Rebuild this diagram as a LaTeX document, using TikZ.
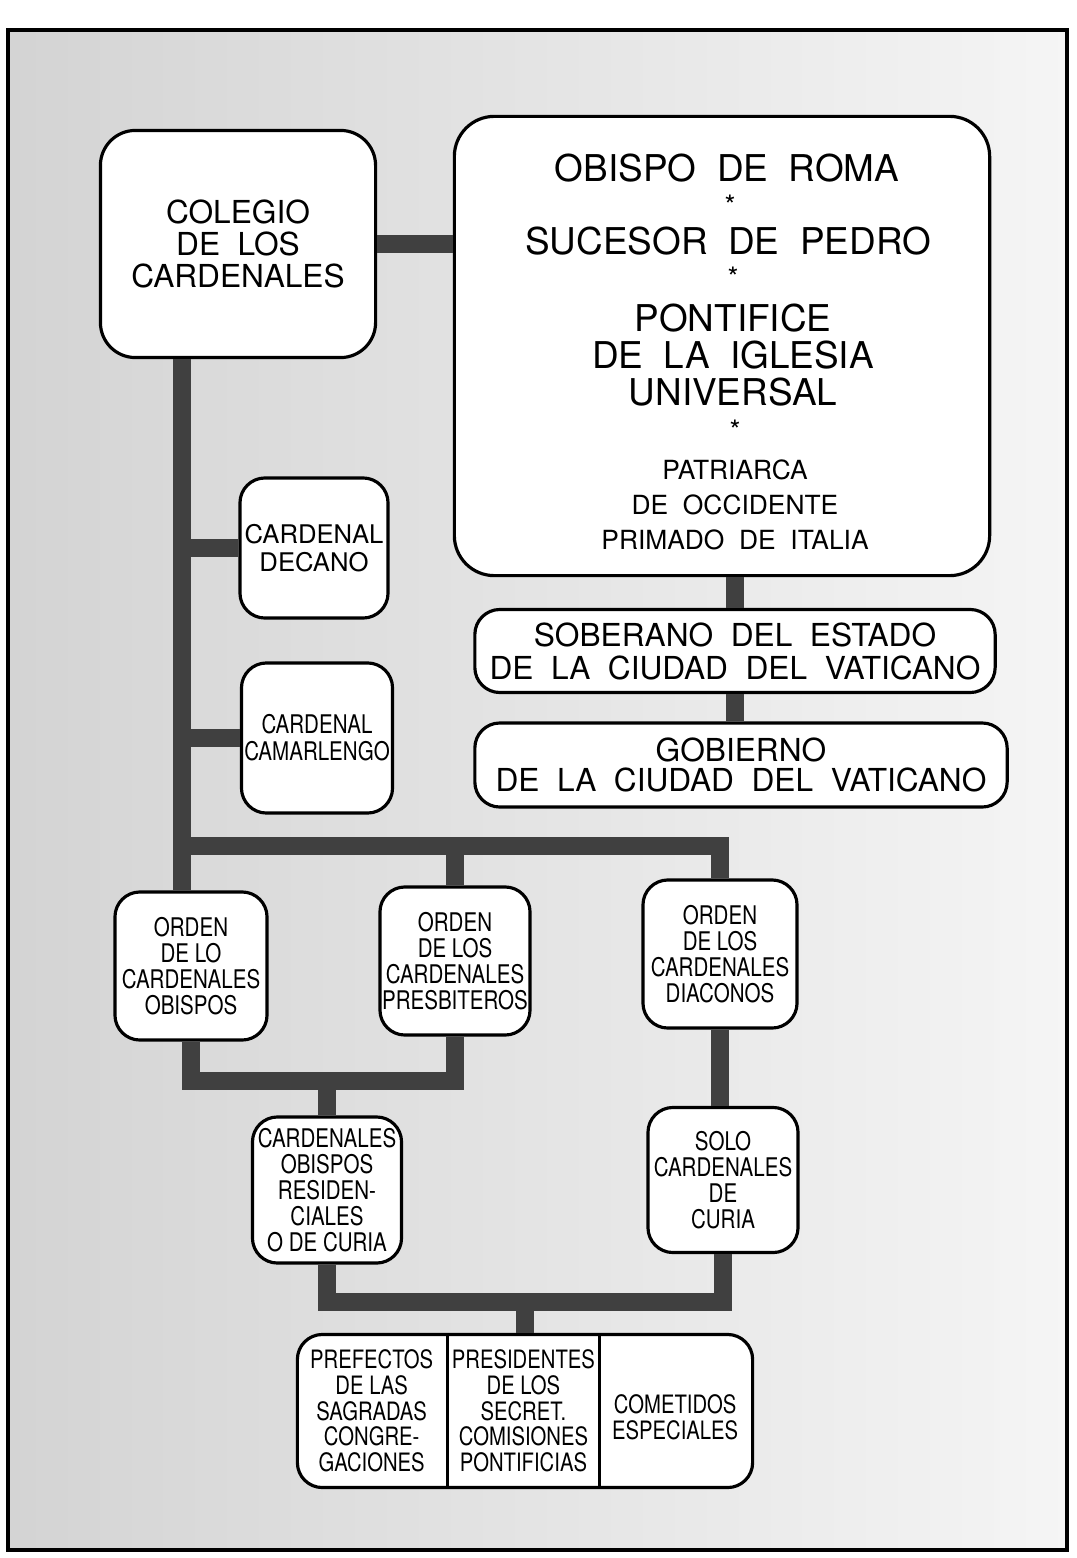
\documentclass[tikz,border=0pt]{standalone}
\usepackage{fontspec}
\setmainfont{TeX Gyre Heros}
\newfontfamily\widefont[WordSpace=2]{TeX Gyre Heros}
\newfontfamily\narrowfont[FakeStretch=0.8]{TeX Gyre Heros}
\usetikzlibrary{positioning}
\tikzset{
  bigbox/.style={draw, line width=0.9pt, fill=white, rounded corners=0.35cm, align=center, inner sep=0pt},
  smallbox/.style={draw, line width=0.9pt, fill=white, rounded corners=0.25cm, align=center, inner sep=0pt},
  ordenbox/.style={smallbox, font=\narrowfont\fontsize{7.3}{7.4}\selectfont},
  txt/.style={align=center, inner sep=0pt},
  cell/.style={inner sep=0pt, outer sep=0pt, minimum width=1.5167cm, minimum height=1.53cm, align=center, font=\narrowfont\fontsize{7.2}{7.3}\selectfont},
  bar/.style={line width=5pt, draw=black!75}
}

\begin{document}
\begin{tikzpicture}[x=0.01cm, y=-0.01cm]
\useasboundingbox (0,0) rectangle (1077,1558);

% Background
\shade[left color=black!17, right color=black!4] (8,30) rectangle (1067,1550);
\draw[line width=1.4pt] (8,30) rectangle (1067,1550);

% Nodes
\node[bigbox, minimum width=2.75cm, minimum height=2.27cm, font=\widefont\fontsize{9}{9}\selectfont] (colegio) at (238,244) {COLEGIO\\DE LOS\\CARDENALES};
\node[bigbox, rounded corners=0.4cm, minimum width=5.35cm, minimum height=4.59cm] (obispo) at (722,346) {};
\node[txt, font=\widefont\fontsize{10.5}{10.5}\selectfont] (roma) at (727,168) {OBISPO DE ROMA};
\node[txt, font=\fontsize{8}{8}\selectfont] (star1) at (730,205) {*};
\node[txt, font=\widefont\fontsize{10.5}{10.5}\selectfont] (pedro) at (728,241) {SUCESOR DE PEDRO};
\node[txt, font=\fontsize{8}{8}\selectfont] (star2) at (733,277) {*};
\node[txt, font=\widefont\fontsize{10.5}{10.5}\selectfont] (pontif) at (733,355) {PONTIFICE\\DE LA IGLESIA\\UNIVERSAL};
\node[txt, font=\fontsize{8}{8}\selectfont] (star3) at (735,430) {*};
\node[txt, font=\widefont\fontsize{7.5}{10}\selectfont] (patri) at (735,505) {PATRIARCA\\DE OCCIDENTE\\PRIMADO DE ITALIA};

\node[smallbox, minimum width=1.48cm, minimum height=1.40cm, font=\fontsize{7.3}{8}\selectfont] (decano) at (314,548) {CARDENAL\\DECANO};
\node[smallbox, minimum width=1.51cm, minimum height=1.50cm, font=\narrowfont\fontsize{7.3}{7.7}\selectfont] (camarl) at (317,738) {CARDENAL\\CAMARLENGO};

\node[smallbox, minimum width=5.20cm, minimum height=0.83cm, font=\widefont\fontsize{9}{9.4}\selectfont] (soberano) at (735,651) {SOBERANO DEL ESTADO\\DE LA CIUDAD DEL VATICANO};
\node[smallbox, minimum width=5.32cm, minimum height=0.84cm, font=\widefont\fontsize{9}{8.6}\selectfont] (gobierno) at (741,765) {GOBIERNO\\DE LA CIUDAD DEL VATICANO};

\node[ordenbox, minimum width=1.52cm, minimum height=1.48cm] (ordob) at (191,966) {ORDEN\\DE LO\\CARDENALES\\OBISPOS};
\node[ordenbox, minimum width=1.50cm, minimum height=1.48cm] (ordpr) at (455,961) {ORDEN\\DE LOS\\CARDENALES\\PRESBITEROS};
\node[ordenbox, minimum width=1.54cm, minimum height=1.48cm] (diac) at (720,954) {ORDEN\\DE LOS\\CARDENALES\\DIACONOS};
\node[ordenbox, minimum width=1.49cm, minimum height=1.46cm] (res) at (327,1190) {CARDENALES\\OBISPOS\\RESIDEN-\\CIALES\\O DE CURIA};
\node[ordenbox, minimum width=1.50cm, minimum height=1.45cm] (solo) at (723,1180) {SOLO\\CARDENALES\\DE\\CURIA};

\node[smallbox, minimum width=4.55cm, minimum height=1.53cm] (cargos) at (525,1411) {};
\node[cell, anchor=west] (pref) at (cargos.west) {PREFECTOS\\DE LAS\\SAGRADAS\\CONGRE-\\GACIONES};
\node[cell, right=0pt of pref] (pres) {PRESIDENTES\\DE LOS\\SECRET.\\COMISIONES\\PONTIFICIAS};
\node[cell, right=0pt of pres, yshift=-0.06cm] (comet) {COMETIDOS\\ESPECIALES};
\draw[line width=0.9pt] (pref.north east) -- (pref.south east);
\draw[line width=0.9pt] (pres.north east) -- (pres.south east);

% Bars
\coordinate (spine) at (182,846);
\coordinate (jlow) at (327,1081);
\coordinate (jbot) at (525,1302);

\draw[bar] (colegio.east) -- (colegio.east -| obispo.west);
\draw[bar] (colegio.south -| spine) -- (spine |- ordob.north);
\draw[bar] (decano.west) -- (decano.west -| spine);
\draw[bar] (camarl.west) -- (camarl.west -| spine);
\draw[bar] (spine) -| (diac.north);
\draw[bar] (ordpr.north |- spine) -- (ordpr.north);
\draw[bar] (ordob.south) |- (jlow) -| (ordpr.south);
\draw[bar] (jlow) -- (res.north);
\draw[bar] (diac.south) -- (diac.south |- solo.north);
\draw[bar] (res.south) |- (jbot) -| (solo.south);
\draw[bar] (jbot) -- (cargos.north);
\draw[bar] (obispo.south -| soberano.north) -- (soberano.north);
\draw[bar] (soberano.south) -- (soberano.south |- gobierno.north);

\end{tikzpicture}
\end{document}
